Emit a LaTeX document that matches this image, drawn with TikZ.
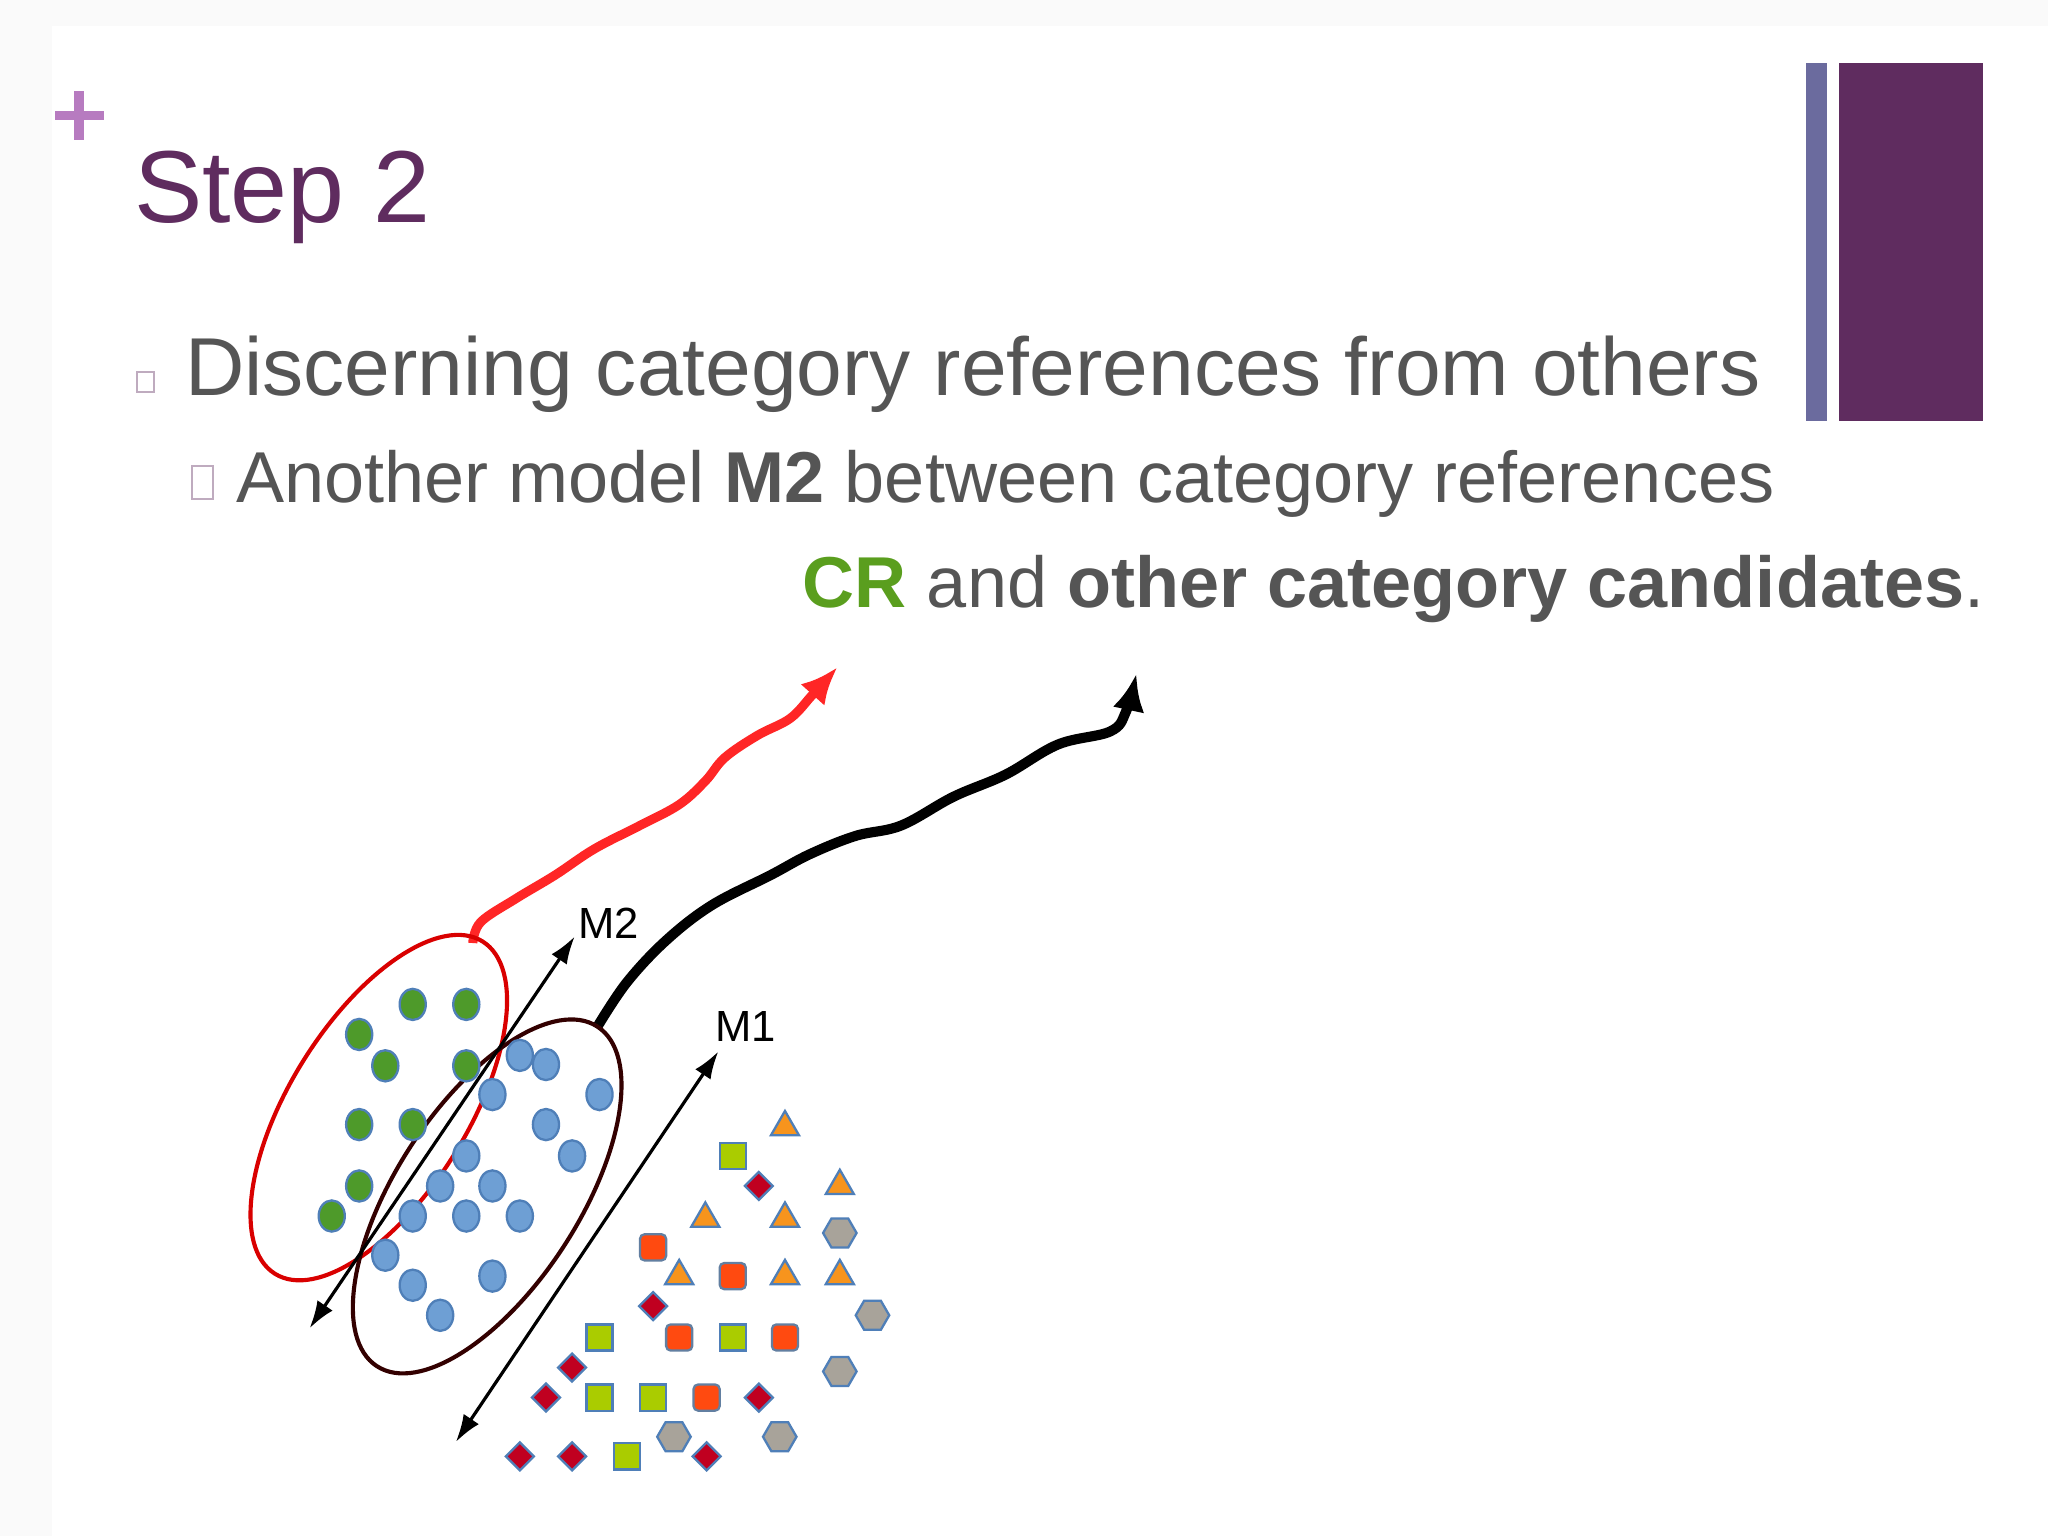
\documentclass[tikz,border=0pt]{standalone}
\usepackage{fontspec}
\setmainfont{Liberation Sans}
\usetikzlibrary{shapes.geometric,arrows.meta}
\definecolor{ttl}{HTML}{5F2C5F}
\definecolor{plusc}{HTML}{B77BC0}
\definecolor{barb}{HTML}{6B6B9E}
\definecolor{txt}{HTML}{555555}
\definecolor{crg}{HTML}{5A9E1E}
\definecolor{gdot}{HTML}{4E9A2A}
\definecolor{bdot}{HTML}{6E9FD4}
\definecolor{bline}{HTML}{4F7FB8}
\definecolor{lime}{HTML}{AACC00}
\definecolor{oran}{HTML}{FF4A10}
\definecolor{tri}{HTML}{F7941D}
\definecolor{dia}{HTML}{C00020}
\definecolor{hexg}{HTML}{A8A39A}
\tikzset{
 gc/.style={ellipse,minimum width=5.7pt,minimum height=6.8pt,inner sep=0,fill=gdot,draw=bline,line width=0.5pt},
 bc/.style={ellipse,minimum width=5.7pt,minimum height=6.8pt,inner sep=0,fill=bdot,draw=bline,line width=0.5pt},
 sqg/.style={rectangle,minimum size=5.7pt,inner sep=0,fill=lime,draw=bline,line width=0.5pt},
 sqo/.style={rectangle,rounded corners=1pt,minimum size=5.7pt,inner sep=0,fill=oran,draw=bline!60!gray,line width=0.5pt},
 trg/.style={isosceles triangle,shape border rotate=90,isosceles triangle apex angle=60,minimum height=5.3pt,minimum width=5.9pt,inner sep=0,fill=tri,draw=bline,line width=0.5pt},
 dm/.style={diamond,minimum size=6.3pt,inner sep=0,fill=dia,draw=bline,line width=0.5pt},
 hx/.style={regular polygon,regular polygon sides=6,minimum size=7.3pt,inner sep=0,fill=hexg,draw=bline,line width=0.5pt},
 dbl/.style={{Latex[length=6pt,width=4pt]}-{Latex[length=6pt,width=4pt]},line width=0.7pt},
 lbl/.style={font=\fontsize{9.5}{10}\selectfont,inner sep=0}
}
\begin{document}
\begin{tikzpicture}[x=0.1mm,y=-0.1mm]
\fill[white!98!black] (0,0) rectangle (1568,1176);
\fill[white] (40,20) rectangle (1568,1176);
% plus
\fill[plusc] (57,70) rectangle (64,107);
\fill[plusc] (42,85) rectangle (80,92);
\node[anchor=base west,inner sep=0,text=ttl,font=\fontsize{22.3}{27}\selectfont] (title) at (102,170) {Step 2};
% bars
\fill[barb] (1383,48) rectangle (1399,322);
\fill[ttl] (1408,48) rectangle (1518,322);
% bullets
\draw[ttl!40,line width=0.4pt] (105,285) rectangle (118,300);
\draw[ttl!40,line width=0.4pt] (147,357) rectangle (163,382);
\node[anchor=base west,inner sep=0,text=txt,font=\fontsize{17.9}{22}\selectfont] (l1) at (141,303) {Discerning category references from others};
\node[anchor=base west,inner sep=0,text=txt,font=\fontsize{15.7}{19}\selectfont] (l2) at (180,385) {Another model \textbf{M2} between category references};
\node[anchor=base east,inner sep=0,text=txt,font=\fontsize{15.7}{19}\selectfont] (l3) at (1520,465) {\textbf{\textcolor{crg}{CR}} and \textbf{other category candidates}.};
% wavy arrows
\coordinate (rs) at (362,722);
\coordinate (re) at (641,511);
\draw[red!85!white,line width=2pt,-{Latex[length=8pt,width=7pt]}]
 plot[smooth,tension=0.6] coordinates {(362,722) (368,706) (395,688) (425,670) (455,650) (490,632) (520,616) (540,598) (555,580) (580,563) (605,550) (622,532) (641,511)};
\coordinate (bs) at (458,785);
\coordinate (be) at (870,516);
\draw[black,line width=2.2pt,-{Latex[length=8pt,width=7pt]}]
 plot[smooth,tension=0.6] coordinates {(458,785) (480,752) (510,720) (545,693) (590,670) (620,654) (655,640) (690,632) (730,610) (770,593) (810,570) (850,560) (862,545) (870,516)};
% ellipses
\draw[red!85!black,line width=0.9pt,rotate around={58:(290,848)}] (290,848) ellipse (150 and 68);
\draw[black!80!red,line width=0.9pt,rotate around={57:(373,916)}] (373,916) ellipse (155 and 70);
% M arrows
\coordinate (m2a) at (237,1017); \coordinate (m2b) at (440,717);
\draw[dbl] (m2a) -- (m2b);
\coordinate (m1a) at (349,1104); \coordinate (m1b) at (550,805);
\draw[dbl] (m1a) -- (m1b);
\node[lbl] (m2) at (466,707) {M2};
\node[lbl] (m1) at (571,786) {M1};
% green
\foreach \p [count=\i] in {(316,769),(357,769),(275,792),(295,816),(357,816),(275,861),(316,861),(275,908),(254,931)}
 \node[gc] (g\i) at \p {};
% blue
\foreach \p [count=\i] in {(398,808),(418,815),(377,838),(459,838),(418,861),(438,885),(357,885),(337,908),(377,908),(316,931),(357,931),(398,931),(295,961),(316,984),(377,977),(337,1007)}
 \node[bc] (b\i) at \p {};
% triangles
\foreach \p [count=\i] in {(601,863),(643,908),(540,933),(601,933),(520,977),(601,977),(643,977)}
 \node[trg] (t\i) at \p {};
\foreach \p [count=\i] in {(561,885),(459,1024),(561,1024),(459,1070),(500,1070),(480,1115)}
 \node[sqg] (s\i) at \p {};
\foreach \p [count=\i] in {(500,955),(561,977),(520,1024),(601,1024),(541,1070)}
 \node[sqo] (o\i) at \p {};
\foreach \p [count=\i] in {(581,908),(500,1000),(438,1047),(418,1070),(581,1070),(398,1115),(438,1115),(541,1115)}
 \node[dm] (d\i) at \p {};
\foreach \p [count=\i] in {(643,944),(668,1007),(643,1050),(516,1100),(597,1100)}
 \node[hx] (h\i) at \p {};
\end{tikzpicture}
\end{document}
